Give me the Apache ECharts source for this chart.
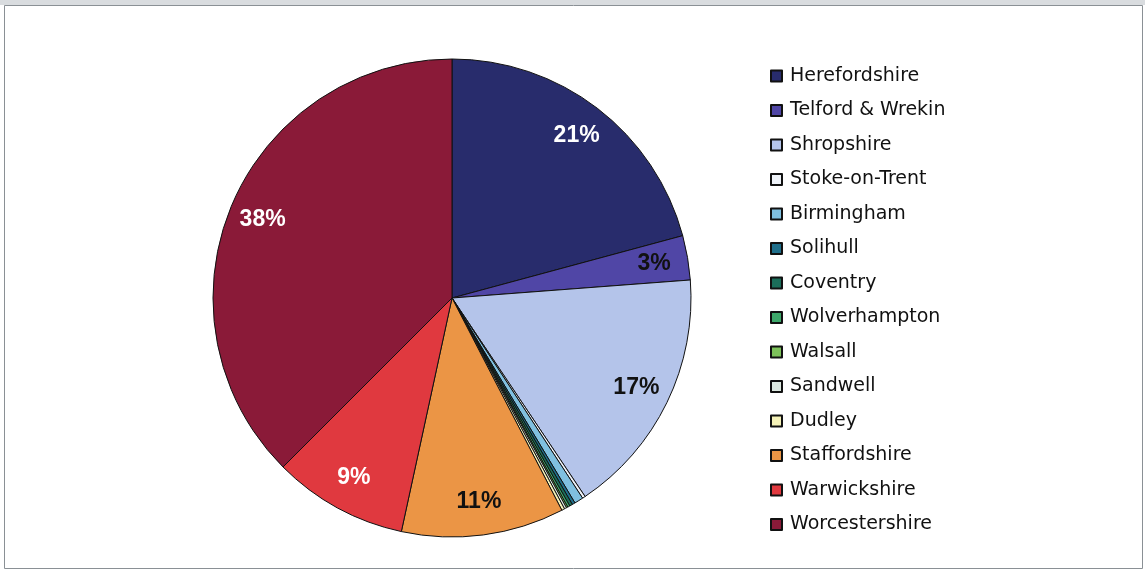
<!DOCTYPE html>
<html>
<head>
<meta charset="utf-8">
<script src="https://cdn.jsdelivr.net/npm/echarts@6/dist/echarts.min.js"></script>
<style>
	html, body { margin: 0; padding: 0; background: #fff; }
	#main { width: 1145px; height: 572px; }
</style>
</head>
<body>
<div id="main"></div>
<script>
	// areas and their share (%)
	var areas = ['Herefordshire', 'Telford & Wrekin', 'Shropshire', 'Stoke-on-Trent', 'Birmingham',
		'Solihull', 'Coventry', 'Wolverhampton', 'Walsall', 'Sandwell', 'Dudley',
		'Staffordshire', 'Warwickshire', 'Worcestershire'];
	var shares = [20.8, 3.0, 16.8, 0.2, 0.6, 0.2, 0.2, 0.15, 0.1, 0.15, 0.2, 11.0, 9.1, 37.5];

	var colors = ['#282c6c', '#5046a6', '#b4c4ea', '#eef2f8', '#80c0e0', '#1f6f8b', '#1b6e5a',
		'#3da86a', '#7dc25a', '#dce8e0', '#f5f2b8', '#eb9545', '#e0393f', '#8a1a38'];
	var labelColors = ['#fff', '#111', '#111', '#111', '#111', '#111', '#111',
		'#111', '#111', '#111', '#111', '#111', '#fff', '#fff'];

	var pieData = [];
	var labelData = [];
	for (var i = 0; i < areas.length; i++) {
		pieData.push({ name: areas[i], value: shares[i], itemStyle: { color: colors[i] } });
		labelData.push({ name: areas[i] + '#', value: shares[i], label: { color: labelColors[i] } });
	}

	var chart = echarts.init(document.getElementById('main'));
	chart.setOption({
		animation: false,
		backgroundColor: '#fff',
		graphic: [
			{ type: 'rect', shape: { x: 0, y: 0, width: 1145, height: 5 }, style: { fill: '#d9dcdf' } },
			{ type: 'rect', shape: { x: 4.5, y: 5.5, width: 1138, height: 563 }, style: { fill: 'none', stroke: '#8a9095', lineWidth: 1 } }
		],
		legend: {
			orient: 'vertical',
			left: 765,
			top: 61,
			icon: 'rect',
			itemWidth: 11,
			itemHeight: 11,
			itemGap: 14.5,
			data: areas,
			textStyle: {
				fontFamily: "'DejaVu Sans', sans-serif",
				fontSize: 19,
				lineHeight: 20,
				color: '#111',
				padding: [0, 0, 0, 3]
			}
		},
		series: [{
			type: 'pie',
			center: [452, 298],
			radius: 239,
			startAngle: 90,
			clockwise: true,
			silent: true,
			label: { show: false },
			labelLine: { show: false },
			itemStyle: { borderColor: '#111', borderWidth: 1 },
			data: pieData
		}, {
			type: 'pie',
			center: [452, 298],
			radius: [165, 239],
			startAngle: 90,
			clockwise: true,
			silent: true,
			itemStyle: { color: 'rgba(0,0,0,0)', borderWidth: 0 },
			labelLine: { show: false },
			label: {
				show: true,
				position: 'inside',
				fontFamily: "'Liberation Sans', Arial, sans-serif",
				fontSize: 23,
				fontWeight: 'bold',
				formatter: function (p) {
					return p.percent >= 2 ? Math.round(p.percent) + '%' : '';
				}
			},
			data: labelData
		}]
	});
</script>
</body>
</html>
